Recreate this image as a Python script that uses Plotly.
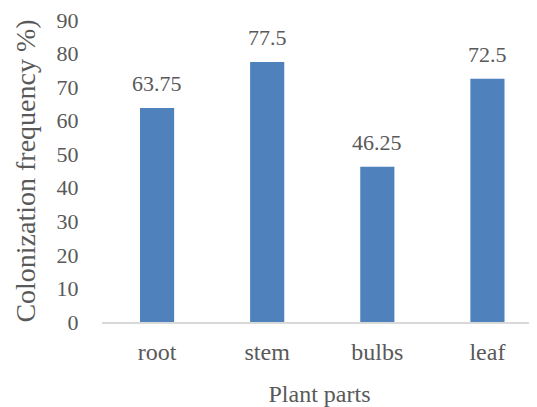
import plotly.graph_objects as go

categories = ["root", "stem", "bulbs", "leaf"]
values = [63.75, 77.5, 46.25, 72.5]
labels = ["63.75", "77.5", "46.25", "72.5"]
y_ticks = [0, 10, 20, 30, 40, 50, 60, 70, 80, 90]

FONT = "Liberation Serif, Times New Roman, serif"
GRAY = "#595959"

# The page body has an 8px default margin, so the figure is sized to fit the 537x407 window.
fig = go.Figure()
fig.add_trace(go.Bar(x=categories, y=values, marker=dict(color="#4F81BD", line=dict(width=0)),
                     hoverinfo="skip"))

for c, v, t in zip(categories, values, labels):
    fig.add_annotation(x=c, y=v, text=t, showarrow=False, yanchor="bottom", yshift=10,
                       font=dict(family=FONT, size=22, color=GRAY))

fig.update_layout(
    width=529, height=399,
    margin=dict(l=94, r=0, t=12, b=85, autoexpand=False),
    paper_bgcolor="white", plot_bgcolor="white",
    bargap=0.69,
    showlegend=False,
    font=dict(family=FONT, color=GRAY),
)
fig.update_xaxes(
    range=[-0.5, 3.45], automargin=False,
    showline=True, linecolor="#D9D9D9", linewidth=1.5,
    ticks="outside", ticklen=7, tickcolor="rgba(0,0,0,0)",
    tickfont=dict(family=FONT, size=24, color=GRAY),
    title=dict(text="Plant parts", font=dict(family=FONT, size=24, color=GRAY), standoff=22),
    showgrid=False, zeroline=False,
)
fig.update_yaxes(
    range=[0, 90], tickvals=y_ticks, automargin=False, ticklabeloverflow="allow",
    showgrid=False, zeroline=False, showline=False,
    ticks="outside", ticklen=18, tickcolor="rgba(0,0,0,0)",
    tickfont=dict(family=FONT, size=22, color=GRAY),
    title=dict(text="Colonization frequency %)", font=dict(family=FONT, size=28, color=GRAY), standoff=12),
)

fig.write_html("out.html")
